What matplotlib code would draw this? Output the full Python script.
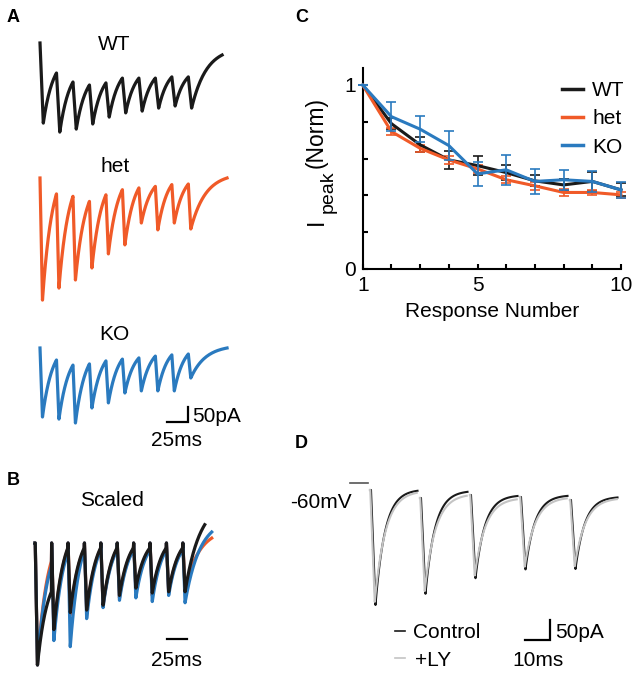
import numpy as np
import matplotlib
matplotlib.use('Agg')
import matplotlib.pyplot as plt
from matplotlib.lines import Line2D

plt.rcParams['font.family'] = ['Liberation Sans', 'DejaVu Sans']

# ---------------- data ----------------
c_black = '#1a1a1a'
c_het = '#f05a28'
c_ko = '#2a7abf'
c_ly = '#c4c4c4'

# panel C : normalised peak current vs response number
resp_num = np.arange(1, 11)
wt_norm = [1.0, 0.79, 0.675, 0.593, 0.562, 0.524, 0.479, 0.457, 0.476, 0.43]
het_norm = [1.0, 0.747, 0.656, 0.593, 0.544, 0.485, 0.452, 0.416, 0.416, 0.403]
ko_norm = [1.0, 0.828, 0.76, 0.671, 0.517, 0.539, 0.476, 0.485, 0.476, 0.43]
wt_err = [0, 0.03, 0.04, 0.05, 0.05, 0.04, 0.03, 0.03, 0.05, 0.035]
het_err = [0, 0.02, 0.02, 0.02, 0.02, 0.02, 0.02, 0.02, 0.015, 0.015]
ko_err = [0, 0.08, 0.07, 0.08, 0.065, 0.08, 0.07, 0.055, 0.055, 0.045]

# panel A : 50 Hz train, levels in pA relative to baseline
train_t = np.arange(10) * 20.0
a_wt_trough = [-267, -297, -287, -270, -247, -233, -227, -217, -210, -217]
a_wt_pre = [0, -100, -130, -140, -133, -117, -117, -117, -113, -113]
a_wt_end = (221.0, -40)
a_het_trough = [-407, -367, -340, -300, -253, -223, -150, -173, -150, -170]
a_het_pre = [0, -53, -61, -78, -56, -39, -33, -28, -22, -20]
a_het_end = (227.0, 0)
a_ko_trough = [-230, -237, -250, -200, -183, -150, -143, -143, -143, -100]
a_ko_pre = [0, -40, -57, -53, -43, -37, -33, -27, -23, -20]
a_ko_end = (227.0, 0)

# panel B : scaled traces (fraction of first response)
b_wt_trough = [-1.0, -0.71, -0.57, -0.55, -0.51, -0.43, -0.37, -0.41, -0.40, -0.40]
b_wt_pre = [0, -0.40, -0.04, -0.04, -0.04, -0.04, -0.04, -0.04, -0.04, -0.04]
b_wt_end = (207.0, 0.15)
b_het_trough = [-1.0, -0.73, -0.59, -0.57, -0.52, -0.45, -0.40, -0.43, -0.41, -0.37]
b_het_pre = [0, -0.15, -0.05, -0.05, -0.05, -0.05, -0.05, -0.05, -0.05, -0.05]
b_het_end = (215.5, 0.04)
b_ko_trough = [-1.0, -0.80, -0.85, -0.62, -0.53, -0.47, -0.45, -0.48, -0.43, -0.49]
b_ko_pre = [0, -0.19, -0.08, -0.06, -0.06, -0.06, -0.06, -0.06, -0.06, -0.06]
b_ko_end = (215.5, 0.09)
b_spike = [0] * 10

# panel D : 5 pulses, pA relative to -60 mV holding baseline
d_t = [0, 20, 40, 60, 80]
d_start = [-2.5, -22.5, -15, -20, -27.5]
d_ctrl_trough = [-290, -262, -223, -201, -200]
d_ctrl_end = [-1, -4, -15, -15, -19]
d_ly_trough = [-282, -255, -216, -194, -193]
d_ly_end = [-4, -12, -22, -20, -22]
d_pre_t = [-8, -0.8]
d_pre_level = [16, 16]

# ---------------- helpers ----------------
W, H = 638, 675
fig = plt.figure(figsize=(W / 100, H / 100), dpi=100)


def fx(px):
    return px / W


def fy(py):
    return 1 - py / H


def axes_px(left, top, right, bottom):
    ax = fig.add_axes([fx(left), fy(bottom), (right - left) / W, (bottom - top) / H])
    ax.axis('off')
    return ax


def train_trace(t_pulse, pre, trough, end, drop=3.5, tau=12.0, tau_end=18.0, spike=None):
    ts, ys = [], []
    n = len(t_pulse)
    for i in range(n):
        t0 = t_pulse[i]
        ts.append(t0)
        ys.append(pre[i])
        if spike is not None:
            ts.append(t0 + 0.3)
            ys.append(spike[i])
        tp = t0 + drop
        if i < n - 1:
            t1, y1, tt = t_pulse[i + 1], pre[i + 1], tau
        else:
            t1, y1, tt = end[0], end[1], tau_end
        s = np.linspace(0, t1 - tp, 40)
        frac = (1 - np.exp(-s / tt)) / (1 - np.exp(-(t1 - tp) / tt))
        seg = trough[i] + (y1 - trough[i]) * frac
        ts.extend(tp + s[:-1])
        ys.extend(seg[:-1])
    ts.append(end[0])
    ys.append(end[1])
    return np.array(ts), np.array(ys)


def epsc(t0, start, trough, end, tau, dur=19.0, shift=0.0):
    s = np.linspace(0, dur - 2.2, 80)
    ts = np.concatenate([[t0, t0 + 0.4 + shift], t0 + 2.2 + shift + s])
    ys = np.concatenate([[start, start], end + (trough - end) * np.exp(-s / tau)])
    return ts, ys


def label(px, py, s, size=15, ha='left', **kw):
    fig.text(fx(px), fy(py), s, fontsize=size, ha=ha, va='baseline', **kw)


# ---------------- panel A ----------------
pxms_a = 0.824
pxpa = 0.3
ax_a = axes_px(30, 30, 250, 450)
ax_a.set_xlim((30 - 40) / pxms_a, (250 - 40) / pxms_a)
ax_a.set_ylim(-(450 - 43) / pxpa, (43 - 30) / pxpa)
off_het = -(178 - 43) / pxpa
off_ko = -(348 - 43) / pxpa

t, y = train_trace(train_t, a_wt_pre, a_wt_trough, a_wt_end, drop=4.0)
ax_a.plot(t, y, color=c_black, lw=2.3, solid_joinstyle='round')
t, y = train_trace(train_t, a_het_pre, a_het_trough, a_het_end, drop=3.0)
ax_a.plot(t, y + off_het, color=c_het, lw=2.3, solid_joinstyle='round')
t, y = train_trace(train_t, a_ko_pre, a_ko_trough, a_ko_end, drop=3.0)
ax_a.plot(t, y + off_ko, color=c_ko, lw=2.3, solid_joinstyle='round')

sb_t = (167 - 40) / pxms_a
sb_y = -(421.7 - 43) / pxpa
ax_a.plot([sb_t, sb_t + 25, sb_t + 25], [sb_y, sb_y, sb_y + 50], color='black', lw=1.6,
          solid_joinstyle='miter')

label(7, 22, 'A', size=13, weight='bold')
label(114, 50, 'WT', ha='center')
label(115, 172, 'het', ha='center')
label(114, 340, 'KO', ha='center')
label(192, 421.5, '50pA')
label(176, 446.5, '25ms', ha='center')

# ---------------- panel B ----------------
pxms_b = 0.82
pxn = 122
ax_b = axes_px(25, 520, 230, 675)
ax_b.set_xlim((25 - 35) / pxms_b, (230 - 35) / pxms_b)
ax_b.set_ylim(-(675 - 543) / pxn, (543 - 520) / pxn)

t, y = train_trace(train_t, b_het_pre, b_het_trough, b_het_end, drop=3.0, spike=b_spike)
ax_b.plot(t, y, color=c_het, lw=2.3)
t, y = train_trace(train_t, b_ko_pre, b_ko_trough, b_ko_end, drop=3.0, spike=b_spike)
ax_b.plot(t, y, color=c_ko, lw=2.3)
t, y = train_trace(train_t, b_wt_pre, b_wt_trough, b_wt_end, drop=3.0, spike=b_spike)
ax_b.plot(t, y, color=c_black, lw=2.3)

sb_t = (166.7 - 35) / pxms_b
sb_y = -(639 - 543) / pxn
ax_b.plot([sb_t, sb_t + 25], [sb_y, sb_y], color='black', lw=1.6)

label(7, 485, 'B', size=13, weight='bold')
label(111.5, 506.5, 'Scaled', ha='center')
label(176, 666.5, '25ms', ha='center')

# ---------------- panel C ----------------
ax_c = fig.add_axes([fx(362.7), fy(269), (621 - 362.7) / W, (269 - 68) / H])
ax_c.errorbar(resp_num, wt_norm, yerr=wt_err, color=c_black, lw=2.2, elinewidth=1.2,
              capsize=3.5, capthick=1.2, clip_on=False, zorder=3)
ax_c.errorbar(resp_num, het_norm, yerr=het_err, color=c_het, lw=2.2, elinewidth=1.2,
              capsize=3.5, capthick=1.2, clip_on=False, zorder=3)
ax_c.errorbar(resp_num, ko_norm, yerr=ko_err, color=c_ko, lw=2.2, elinewidth=1.2,
              capsize=3.5, capthick=1.2, clip_on=False, zorder=4)
ax_c.set_xlim(1, 10)
ax_c.set_ylim(0, (269 - 68) / 184)
ax_c.spines['top'].set_visible(False)
ax_c.spines['right'].set_visible(False)
ax_c.spines['left'].set_linewidth(1.5)
ax_c.spines['bottom'].set_linewidth(1.5)
ax_c.set_xticks(resp_num)
ax_c.set_xticklabels(['1', '', '', '', '5', '', '', '', '', '10'])
ax_c.set_yticks([0, 0.2, 0.4, 0.6, 0.8, 1.0])
ax_c.set_yticklabels(['0', '', '', '', '', '1'])
ax_c.tick_params(direction='in', length=3.5, width=1.5, labelsize=15, pad=5)
ax_c.set_xlabel('Response Number', fontsize=15, labelpad=5)

fig.text(fx(316), fy(132.5), '(Norm)', rotation=90, ha='center', va='center', fontsize=16.5)
fig.text(fx(328.5), fy(191.7), 'peak', rotation=90, ha='center', va='center', fontsize=14)
fig.text(fx(316), fy(221.7), 'I', rotation=90, ha='center', va='center', fontsize=16.5)

handles = [Line2D([], [], color=c, lw=2.5) for c in (c_black, c_het, c_ko)]
ax_c.legend(handles, ['WT', 'het', 'KO'], loc='upper left', bbox_to_anchor=(fx(562), fy(81)),
            bbox_transform=fig.transFigure, frameon=False, borderpad=0, borderaxespad=0,
            handlelength=1.0, handletextpad=0.45, labelspacing=0.45, fontsize=15)

label(295, 22, 'C', size=13, weight='bold')

# ---------------- panel D ----------------
pxms_d = 2.5
pxpa_d = 0.4
ax_d = axes_px(340, 470, 630, 650)
ax_d.set_xlim((340 - 370) / pxms_d, (630 - 370) / pxms_d)
ax_d.set_ylim(-(650 - 489) / pxpa_d, (489 - 470) / pxpa_d)

ax_d.plot(d_pre_t, d_pre_level, color='#555555', lw=1.2)
for i in range(len(d_t)):
    t, y = epsc(d_t[i], d_start[i], d_ctrl_trough[i], d_ctrl_end[i], tau=3.8)
    ax_d.plot(t, y, color=c_black, lw=1.5)
for i in range(len(d_t)):
    t, y = epsc(d_t[i], d_start[i], d_ly_trough[i], d_ly_end[i], tau=4.3, shift=-0.3)
    ax_d.plot(t, y, color=c_ly, lw=1.5)

sb_t = (525 - 370) / pxms_d
sb_y = -(640 - 489) / pxpa_d
ax_d.plot([sb_t, sb_t + 10, sb_t + 10], [sb_y, sb_y, sb_y + 50], color='black', lw=1.6,
          solid_joinstyle='miter')

fig.add_artist(Line2D([fx(395), fx(405)], [fy(631), fy(631)], color=c_black, lw=1.2,
                      transform=fig.transFigure))
fig.add_artist(Line2D([fx(395), fx(405)], [fy(658), fy(658)], color=c_ly, lw=1.2,
                      transform=fig.transFigure))

label(295, 448, 'D', size=13, weight='bold')
label(290, 508, '-60mV')
label(413, 638, 'Control')
label(415, 665.5, '+LY')
label(555, 638, '50pA')
label(537.5, 666.5, '10ms', ha='center')

fig.savefig('out.png', dpi=100)
plt.close('all')
